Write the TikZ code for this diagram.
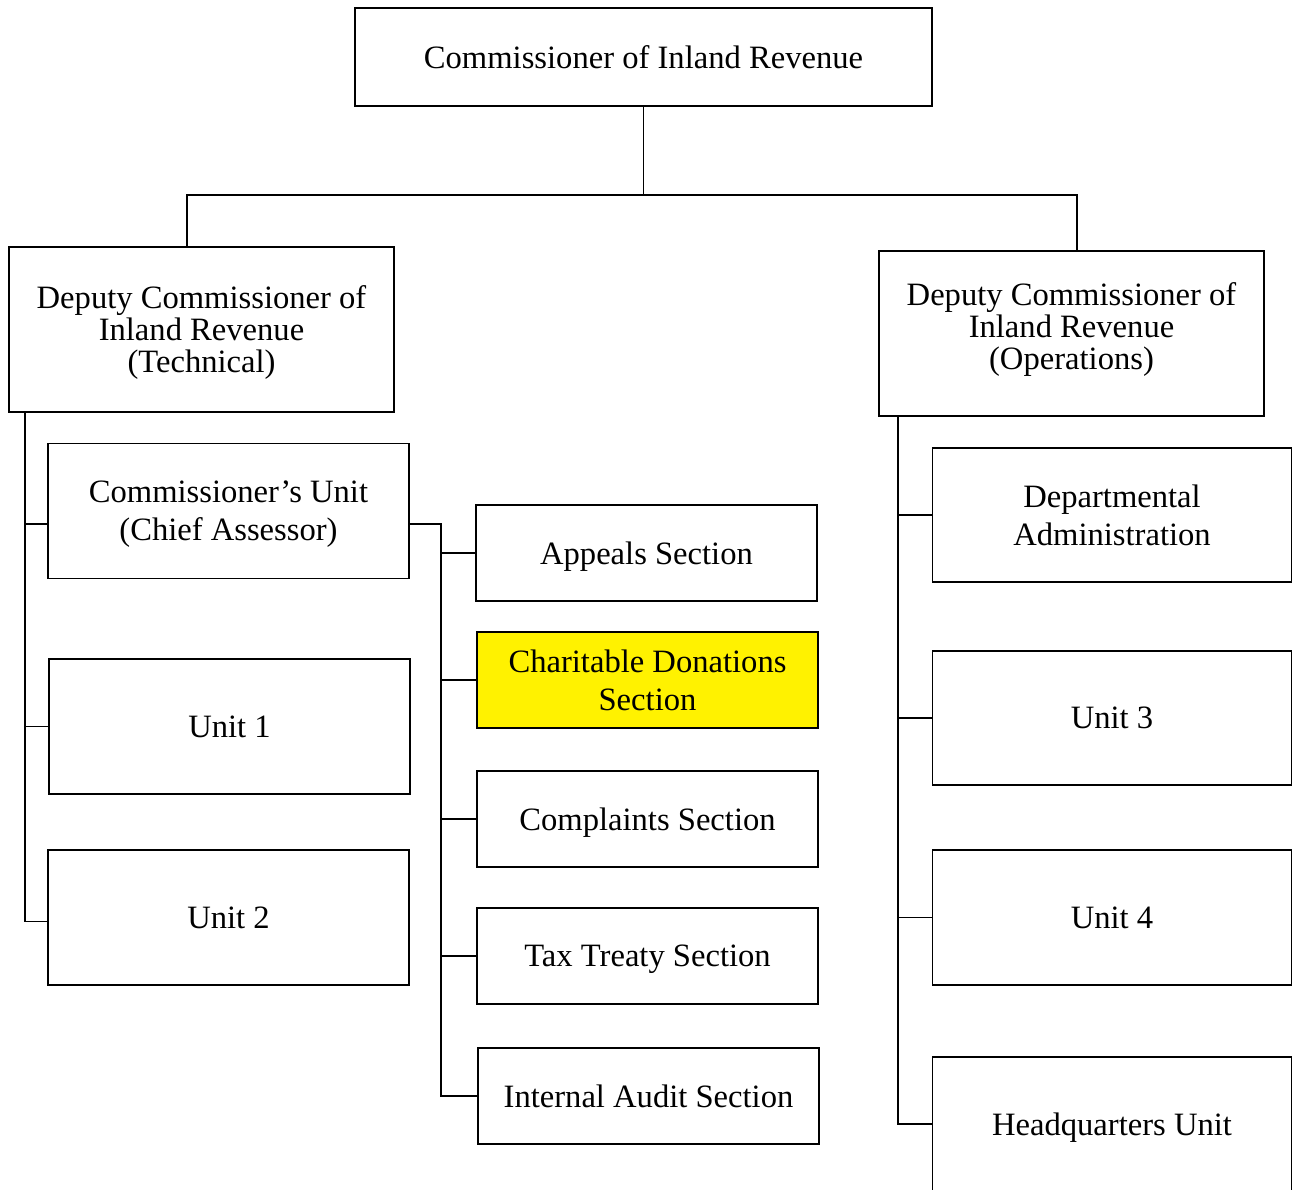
\documentclass[tikz,border=0pt]{standalone}
\usepackage{fontspec}
\setmainfont{Liberation Serif}
\begin{document}
\begin{tikzpicture}[x=1pt, y=-1pt, line width=1.8pt,
    orgbox/.style={draw, align=center, inner sep=0pt, text depth=0pt, font=\fontsize{32.6}{38}\selectfont},
    deputybox/.style={orgbox, minimum width=385pt, minimum height=165pt, font=\fontsize{32.6}{32}\selectfont},
    unitbox/.style={orgbox, minimum width=361pt, minimum height=135pt},
    sectionbox/.style={orgbox, minimum width=341pt, minimum height=96pt}]
    \useasboundingbox (0,0) rectangle (1292,1189);
    \clip (0,0) rectangle (1292,1189);
    % top of the chart
    \node[orgbox, minimum width=577pt, minimum height=98pt] (CIR) at (643.5,57) {Commissioner of Inland Revenue};
    \node[deputybox] (DCT) at (201.5,329.5) {Deputy Commissioner of\\Inland Revenue\\(Technical)};
    \node[deputybox, text depth=14pt] (DCO) at (1071.5,333.5) {Deputy Commissioner of\\Inland Revenue\\(Operations)};
    % technical side
    \node[unitbox] (CU) at (228.5,511) {Commissioner's Unit\\(Chief Assessor)};
    \node[unitbox] (U1) at (229.5,726.5) {Unit 1};
    \node[unitbox] (U2) at (228.5,917.5) {Unit 2};
    % sections under the commissioner's unit
    \node[sectionbox] (AS) at (646.5,553) {Appeals Section};
    \node[sectionbox, fill=yellow] (CD) at (647.5,680) {Charitable Donations\\Section};
    \node[sectionbox] (CS) at (647.5,819) {Complaints Section};
    \node[sectionbox] (TT) at (647.5,956) {Tax Treaty Section};
    \node[sectionbox] (IA) at (648.5,1096) {Internal Audit Section};
    % operations side
    \node[unitbox, minimum width=359pt, minimum height=134pt] (DA) at (1112,515) {Departmental\\Administration};
    \node[unitbox, minimum width=359pt, minimum height=134pt] (U3) at (1112,718) {Unit 3};
    \node[unitbox, minimum width=359pt] (U4) at (1112,917.5) {Unit 4};
    \node[unitbox, minimum width=359pt, minimum height=134pt] (HQ) at (1112,1124) {Headquarters Unit};
    % connectors
    \coordinate (jT) at (643.5,195);
    \coordinate (jL) at (187,195);
    \coordinate (jR) at (1077,195);
    \draw (CIR.south) -- (jT);
    \draw (DCT.north -| jL) -- (jL) -- (jR) -- (DCO.north -| jR);
    \coordinate (tL) at (25,0);
    \coordinate (tM) at (441,0);
    \coordinate (tR) at (898,0);
    \coordinate (cuL) at ([yshift=-13pt]CU.west);
    \coordinate (cuR) at ([yshift=-13pt]CU.east);
    \draw (DCT.south -| tL) -- ([yshift=-4pt]U2.west -| tL) -- ([yshift=-4pt]U2.west);
    \draw (cuL -| tL) -- (cuL);
    \draw (U1.west -| tL) -- (U1.west);
    \draw (cuR) -- (cuR -| tM) -- (IA.west -| tM) -- (IA.west);
    \foreach \s in {AS, CD, CS, TT}
        \draw (\s.west -| tM) -- (\s.west);
    \draw (DCO.south -| tR) -- (HQ.west -| tR) -- (HQ.west);
    \foreach \s in {DA, U3, U4}
        \draw (\s.west -| tR) -- (\s.west);
\end{tikzpicture}
\end{document}
